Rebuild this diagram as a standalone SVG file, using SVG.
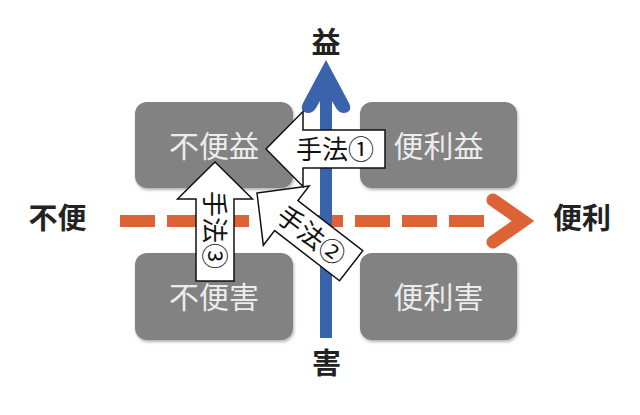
<svg xmlns="http://www.w3.org/2000/svg" xmlns:xlink="http://www.w3.org/1999/xlink" width="640" height="415" viewBox="0 0 640 415">
<style>
.box{fill:#828282;filter:url(#sh)}
.bt{font-family:"Noto Sans CJK JP","Noto Sans",sans-serif;font-size:30px;fill:#ececec;text-anchor:middle}
.lb{font-family:"Noto Sans CJK JP","Noto Sans",sans-serif;font-size:29px;font-weight:700;fill:#222;text-anchor:middle}
.at{font-family:"Noto Sans CJK JP","Noto Sans",sans-serif;font-size:26px;fill:#111;text-anchor:middle}
.ar{fill:#fff;stroke:#111;stroke-width:1.5;stroke-linejoin:miter}
</style>
<defs>
<filter id="sh" x="-10%" y="-10%" width="125%" height="130%">
<feDropShadow dx="1" dy="2" stdDeviation="1.5" flood-color="#000" flood-opacity="0.3"/>
</filter>
<polygon id="arr" points="0,0 37,-37.5 37,-19 119,-19 119,19 37,19 37,37.5"/>
</defs>
<rect width="640" height="415" fill="#fff"/>
<g id="node-fubeneki"><rect class="box" x="135" y="102" width="158" height="86" rx="12"/><text class="bt" x="214" y="157">不便益</text></g>
<g id="node-benrieki"><rect class="box" x="360" y="102" width="157" height="86" rx="12"/><text class="bt" x="438.5" y="157">便利益</text></g>
<g id="node-fubengai"><rect class="box" x="135" y="253" width="158" height="87" rx="12"/><text class="bt" x="214" y="308">不便害</text></g>
<g id="node-benrigai"><rect class="box" x="360" y="253" width="157" height="87" rx="12"/><text class="bt" x="438.5" y="308">便利害</text></g>
<g id="connectors">
<g id="axis-x">
<line x1="120" y1="221" x2="484" y2="221" stroke="#DD6236" stroke-width="12" stroke-dasharray="35 12"/>
<polyline points="493,200 523,221 493,242" fill="none" stroke="#DD6236" stroke-width="13" stroke-linecap="round" stroke-linejoin="miter"/>
</g>
<path id="axis-y" fill="#3A63AE" d="M326,60 L349,103 Q353,112 344,113 Q339,113 336,108 L332,101 L332,338 L320,338 L320,101 L316,108 Q313,113 308,113 Q299,112 303,103 Z"/>
</g>
<g id="label-eki"><text class="lb" x="326" y="52.5">益</text></g>
<g id="label-gai"><text class="lb" x="326.5" y="373.5">害</text></g>
<g id="label-fuben"><text class="lb" x="57.5" y="228.5">不便</text></g>
<g id="label-benri"><text class="lb" x="582" y="228.5">便利</text></g>
<g id="method-3" transform="translate(215,162) rotate(90)">
<use xlink:href="#arr" class="ar"/>
<text class="at" x="68" y="10">手法③</text>
</g>
<g id="method-2" transform="translate(257,193) rotate(37.7)">
<use xlink:href="#arr" class="ar"/>
<text class="at" x="69" y="10">手法②</text>
</g>
<g id="method-1" transform="translate(266,149)">
<use xlink:href="#arr" class="ar"/>
<text class="at" x="69" y="10">手法①</text>
</g>
</svg>
